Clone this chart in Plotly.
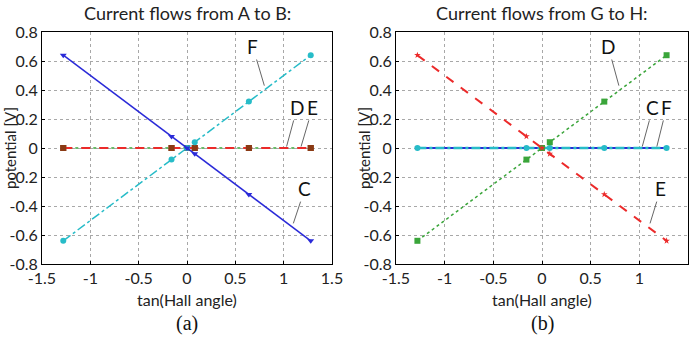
import plotly.graph_objects as go

# ---- data ----
tan_hall = [-1.28, -0.16, 0.0, 0.08, 0.64, 1.28]

# panel (a): current from A to B
a_C = [0.64, 0.08, 0.0, -0.04, -0.32, -0.64]
a_F = [-0.64, -0.08, 0.0, 0.04, 0.32, 0.64]
a_D = [0.0, 0.0, 0.0, 0.0, 0.0, 0.0]
a_E = [0.0, 0.0, 0.0, 0.0, 0.0, 0.0]

# panel (b): current from G to H
b_D = [-0.64, -0.08, 0.0, 0.04, 0.32, 0.64]
b_E = [0.64, 0.08, 0.0, -0.04, -0.32, -0.64]
b_C = [0.0, 0.0, 0.0, 0.0, 0.0, 0.0]
b_F = [0.0, 0.0, 0.0, 0.0, 0.0, 0.0]

x_ticks = [-1.5, -1, -0.5, 0, 0.5, 1, 1.5]
x_ticktext = ["-1.5", "-1", "-0.5", "0", "0.5", "1", "1.5"]
y_ticks = [-0.8, -0.6, -0.4, -0.2, 0, 0.2, 0.4, 0.6, 0.8]
y_ticktext = ["-0.8", "-0.6", "-0.4", "-0.2", "0", "0.2", "0.4", "0.6", "0.8"]

titles = ["Current flows from A to B:", "Current flows from G to H:"]
panel_labels = ["(a)", "(b)"]

BLUE = "#2a2ad8"
CYAN = "#27bcc8"
GREEN = "#3aa53a"
RED = "#ec2a2a"
BROWN = "#8a3a14"

FONT = "Lato, Open Sans, sans-serif"

fig = go.Figure()

def add(x, y, xa, ya, color, dash, symbol, mcolor, width=1.5, msize=5, name=""):
    fig.add_trace(go.Scatter(
        x=x, y=y, xaxis=xa, yaxis=ya, mode="lines+markers", name=name,
        line=dict(color=color, dash=dash, width=width),
        marker=dict(symbol=symbol, color=mcolor, size=msize),
        showlegend=False))

# panel (a)
add(tan_hall, a_D, "x", "y", GREEN, "dot", "square", BROWN, 1.5, 6, "D")
add(tan_hall, a_E, "x", "y", RED, "dash", "square", BROWN, 2, 6, "E")
add(tan_hall, a_F, "x", "y", CYAN, "dashdot", "circle", CYAN, 1.5, 6, "F")
add(tan_hall, a_C, "x", "y", BLUE, "solid", "triangle-down", BLUE, 1.5, 6, "C")

# panel (b)
add(tan_hall, b_C, "x2", "y2", BLUE, "solid", "triangle-down", BLUE, 2, 5, "C")
add(tan_hall, b_F, "x2", "y2", CYAN, "dashdot", "circle", CYAN, 2.5, 6, "F")
add(tan_hall, b_D, "x2", "y2", GREEN, "dot", "square", GREEN, 1.5, 6, "D")
add(tan_hall, b_E, "x2", "y2", RED, "dash", "star", RED, 2, 5, "E")

W, H = 699, 340
top, bottom = 32, 264
doms = [(42, 332), (396, 688)]

common = dict(
    showgrid=True, gridcolor="#a8a8a8", griddash="dot", gridwidth=1,
    showline=True, linecolor="black", linewidth=1, mirror=True,
    ticks="inside", ticklen=3, tickcolor="black", automargin=False,
    tickfont=dict(family=FONT, size=16, color="#222"), zeroline=False)
axis_common = dict(range=[-1.5, 1.5], tickvals=x_ticks, ticktext=x_ticktext, **common)
yaxis_common = dict(range=[-0.8, 0.8], tickvals=y_ticks, ticktext=y_ticktext, **common)

ydom = [1 - bottom / H, 1 - top / H]
fig.update_layout(
    width=W, height=H, margin=dict(l=0, r=0, t=0, b=0),
    paper_bgcolor="white", plot_bgcolor="white",
    xaxis=dict(domain=[doms[0][0] / W, doms[0][1] / W], anchor="y", **axis_common),
    yaxis=dict(domain=ydom, anchor="x", **yaxis_common),
    xaxis2=dict(domain=[doms[1][0] / W, doms[1][1] / W], anchor="y2", **axis_common),
    yaxis2=dict(domain=ydom, anchor="x2", **yaxis_common),
)

ann = []
def paper_text(txt, px, py, font, angle=0):
    ann.append(dict(text=txt, x=px / W, y=1 - py / H, xref="paper", yref="paper",
                    xanchor="center", yanchor="middle", showarrow=False,
                    textangle=angle, font=font))

for i, (l, r) in enumerate(doms):
    cx = (l + r) / 2
    paper_text(titles[i], cx, 13, dict(family=FONT, size=18, color="#222"))
    paper_text("tan(Hall angle)", cx, 299, dict(family=FONT, size=16, color="#222"))
    paper_text(panel_labels[i], cx, 323, dict(family="Liberation Serif, serif", size=20, color="#111"))
    paper_text("potential [V]", l - 32, 148, dict(family=FONT, size=15, color="#222"), -90)

def label(txt, xa, ya, px, py, tx, ty):
    ann.append(dict(text=txt, x=px, y=py, ax=tx, ay=ty, xref=xa, yref=ya, axref=xa, ayref=ya,
                    showarrow=True, arrowhead=0, arrowwidth=1, arrowcolor="#666",
                    standoff=0, startstandoff=0,
                    font=dict(family=FONT, size=19, color="#111")))

# panel (a) labels
label("F", "x", "y", 0.80, 0.43, 0.68, 0.70)
label("D", "x", "y", 1.03, 0.01, 1.14, 0.28)
label("E", "x", "y", 1.18, 0.01, 1.30, 0.28)
label("C", "x", "y", 1.10, -0.52, 1.22, -0.28)
# panel (b) labels
label("D", "x2", "y2", 0.79, 0.43, 0.68, 0.70)
label("C", "x2", "y2", 1.03, 0.01, 1.14, 0.28)
label("F", "x2", "y2", 1.18, 0.01, 1.28, 0.28)
label("E", "x2", "y2", 1.11, -0.52, 1.22, -0.28)

fig.update_layout(annotations=ann)
fig.write_html("out.html")
